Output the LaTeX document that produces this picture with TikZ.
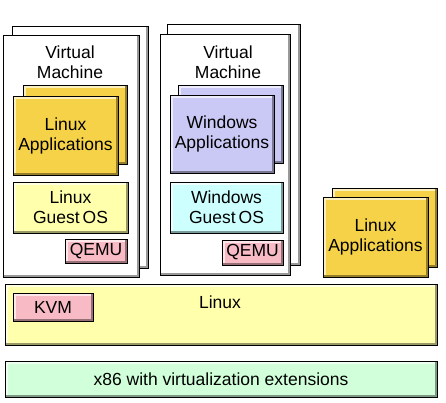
\documentclass[tikz,border=0pt]{standalone}
\usepackage{fontspec}
\setmainfont{Liberation Sans}
\definecolor{appgold}{RGB}{246,210,72}
\definecolor{guestyellow}{RGB}{255,255,172}
\definecolor{winlilac}{RGB}{202,200,245}
\definecolor{wincyan}{RGB}{205,255,255}
\definecolor{qemupink}{RGB}{248,186,196}
\definecolor{hwgreen}{RGB}{208,255,218}
\tikzset{
  bevel/.style={fill=#1, draw=black, line width=0.9pt, inner sep=0pt, align=center,
    path picture={
      \draw[line width=5pt, #1!35!white] (path picture bounding box.south west) |- (path picture bounding box.north east);
      \draw[line width=5pt, #1!60!black] (path picture bounding box.south west) -| (path picture bounding box.north east);
    }},
  sheet/.style={bevel=white, minimum width=#1},
  txt/.style={font=\fontsize{17.5}{20}\selectfont, align=center, inner sep=0pt},
}
\begin{document}
\begin{tikzpicture}[x=1pt, y=-1pt, every node/.append style={font=\fontsize{17.5}{20}\selectfont}]
\useasboundingbox (0,0) rectangle (446,402);

% left virtual machine
\node[bevel=white, minimum width=136pt, minimum height=242pt] (vmleftback) at (80,147) {};
\node[bevel=white, minimum width=136pt, minimum height=242pt] (vmleft) at (71,156) {};
\node[txt] (vmlefttitle) at (70,62) {Virtual\\Machine};
\node[bevel=appgold, minimum width=104pt, minimum height=79pt] (lappsback) at (75,125) {};
\node[bevel=appgold, minimum width=105pt, minimum height=79pt] (lapps) at (65.5,135.5) {Linux\\Applications};
\node[bevel=guestyellow, minimum width=115pt, minimum height=51pt] (lguest) at (70.5,207.5) {Linux\\Guest\,OS};
\node[bevel=qemupink, minimum width=62pt, minimum height=24pt] (qemuleft) at (96,251.5) {QEMU};

% middle virtual machine
\node[bevel=white, minimum width=133pt, minimum height=241pt] (vmmidback) at (233.5,144.5) {};
\node[bevel=white, minimum width=130pt, minimum height=241pt] (vmmid) at (225,154.5) {};
\node[txt] (vmmidtitle) at (228,62) {Virtual\\Machine};
\node[bevel=winlilac, minimum width=105pt, minimum height=78pt] (wappsback) at (230.5,124) {};
\node[bevel=winlilac, minimum width=104pt, minimum height=78pt] (wapps) at (222,134) {Windows\\Applications};
\node[bevel=wincyan, minimum width=113pt, minimum height=51pt] (wguest) at (226.5,207.5) {Windows\\Guest\,OS};
\node[bevel=qemupink, minimum width=61pt, minimum height=25pt] (qemumid) at (252.5,252.5) {QEMU};

% native linux applications
\node[bevel=appgold, minimum width=105pt, minimum height=79pt] (nappsback) at (384.5,227.5) {};
\node[bevel=appgold, minimum width=105pt, minimum height=80pt] (napps) at (375.5,237) {Linux\\Applications};

% host kernel and hardware
\node[bevel=guestyellow, minimum width=432pt, minimum height=61pt] (host) at (221,314.5) {};
\node[txt] (hostlbl) at (220,302) {Linux};
\node[bevel=qemupink, minimum width=80pt, minimum height=28pt] (kvm) at (53,307) {KVM};
\node[bevel=hwgreen, minimum width=432pt, minimum height=36pt] (hw) at (221,379) {x86 with virtualization extensions};
\end{tikzpicture}
\end{document}
